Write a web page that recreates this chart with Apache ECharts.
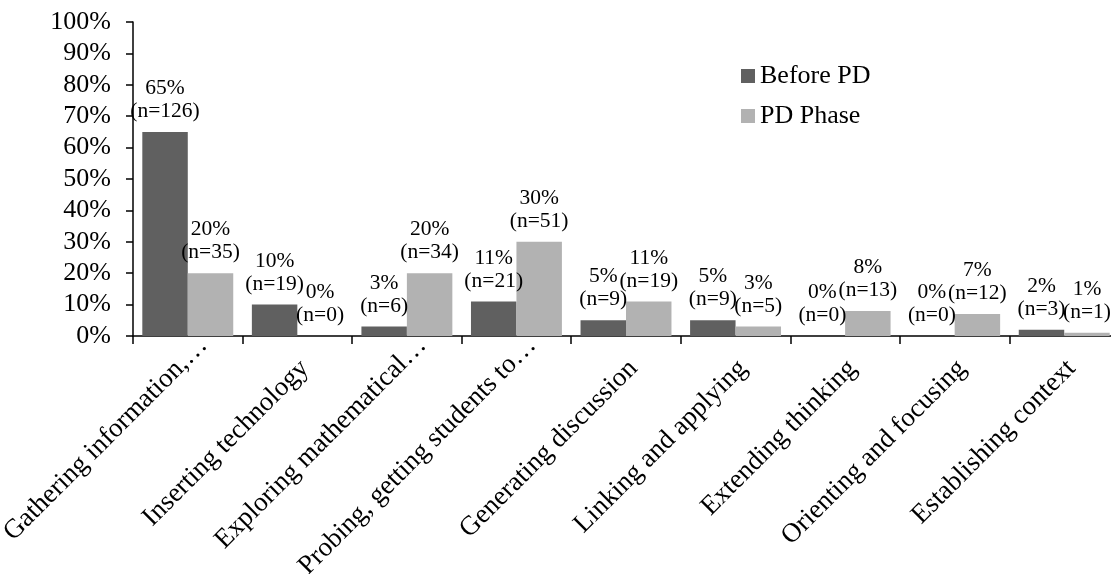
<!DOCTYPE html>
<html>
<head>
<meta charset="utf-8">
<script src="https://cdn.jsdelivr.net/npm/echarts@6/dist/echarts.min.js"></script>
<style>
html,body{margin:0;padding:0;background:#fff;}
#main{width:1111px;height:574px;}
</style>
</head>
<body>
<div id="main"></div>
<script>
var categories = [
  "Gathering information,…",
  "Inserting technology",
  "Exploring mathematical…",
  "Probing, getting students to…",
  "Generating discussion",
  "Linking and applying",
  "Extending thinking",
  "Orienting and focusing",
  "Establishing context"
];
var beforePct = [65, 10, 3, 11, 5, 5, 0, 0, 2];
var beforeN   = [126, 19, 6, 21, 9, 9, 0, 0, 3];
var pdPct     = [20, 0, 20, 30, 11, 3, 8, 7, 1];
var pdN       = [35, 0, 34, 51, 19, 5, 13, 12, 1];
var yTicks = [0, 10, 20, 30, 40, 50, 60, 70, 80, 90, 100];

var FONT = "'Liberation Serif', 'Times New Roman', serif";

// truncated (ellipsis) labels sit slightly further along their direction in the original
var categoryData = categories.map(function (c) {
  if (c.charAt(c.length - 1) === '…') {
    return {value: c, textStyle: {padding: [0, -22, 0, 0], lineHeight: 6}};
  }
  return c;
});

function labelFor(nArr) {
  return {
    show: true,
    position: 'top',
    distance: 9,
    fontFamily: FONT,
    fontSize: 21.5,
    lineHeight: 23,
    color: '#000',
    formatter: function (p) {
      return p.value + '%\n(n=' + nArr[p.dataIndex] + ')';
    }
  };
}

var chart = echarts.init(document.getElementById('main'), null, {renderer: 'canvas'});
chart.setOption({
  backgroundColor: '#fff',
  animation: false,
  textStyle: {fontFamily: FONT},
  grid: {left: 133, top: 22, width: 986, bottom: 238, containLabel: false, outerBoundsMode: 'none'},
  legend: {
    orient: 'vertical',
    left: 736,
    top: 58,
    itemWidth: 14,
    itemHeight: 14,
    itemGap: 14,
    icon: 'rect',
    textStyle: {fontFamily: FONT, fontSize: 26, color: '#000'},
    data: ['Before PD', 'PD Phase']
  },
  xAxis: {
    type: 'category',
    data: categoryData,
    axisLine: {lineStyle: {color: '#000', width: 1.5}},
    axisTick: {show: true, length: 8, lineStyle: {color: '#000', width: 1.5}},
    axisLabel: {
      rotate: 45,
      interval: 0,
      margin: 21,
      align: 'right',
      verticalAlign: 'top',
      lineHeight: 21,
      fontFamily: FONT,
      fontSize: 27,
      color: '#000'
    }
  },
  yAxis: {
    type: 'value',
    min: yTicks[0],
    max: yTicks[yTicks.length - 1],
    interval: 10,
    splitLine: {show: false},
    axisLine: {show: true, lineStyle: {color: '#000', width: 1.5}},
    axisTick: {show: true, length: 7, lineStyle: {color: '#000', width: 1.5}},
    axisLabel: {
      formatter: '{value}%',
      margin: 22,
      fontFamily: FONT,
      fontSize: 26,
      color: '#000'
    }
  },
  series: [
    {
      name: 'Before PD',
      type: 'bar',
      data: beforePct,
      barGap: '0%',
      barCategoryGap: '17%',
      itemStyle: {color: '#606060'},
      label: labelFor(beforeN)
    },
    {
      name: 'PD Phase',
      type: 'bar',
      data: pdPct,
      barGap: '0%',
      barCategoryGap: '17%',
      itemStyle: {color: '#b2b2b2'},
      label: labelFor(pdN)
    }
  ]
});
</script>
</body>
</html>
